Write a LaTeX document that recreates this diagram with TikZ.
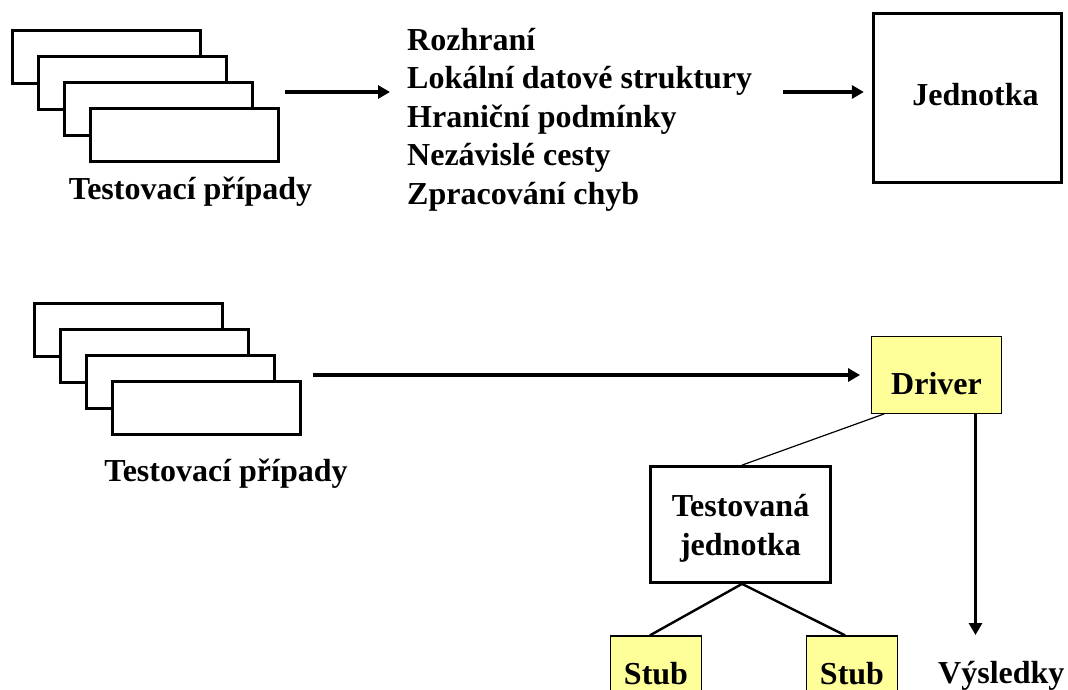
\documentclass[tikz,border=0pt]{standalone}
\usepackage{fontspec}
\setmainfont{Liberation Serif}
\usetikzlibrary{arrows.meta}
\definecolor{stubyellow}{HTML}{FFFF99}
\begin{document}
\begin{tikzpicture}[x=1pt,y=-1pt,
  lbl/.style={font=\fontsize{32}{38.5}\selectfont\bfseries, inner sep=0pt},
  boxtxt/.style={lbl, text height=22pt, text depth=7pt},
  card/.style={draw, line width=2.8pt, fill=white, inner sep=0pt,
    minimum width=188.5pt, minimum height=53.5pt},
  bigbox/.style={boxtxt, draw, line width=2.8pt, fill=white},
  yellowbox/.style={boxtxt, draw, line width=1.4pt, fill=stubyellow},
  arr/.style={line width=3.4pt, -{Triangle[length=12pt,width=13pt]}},
  link/.style={line width=2.4pt}]
\useasboundingbox (0,0) rectangle (1068,689);
\clip (0,0) rectangle (1068,689);

% --- upper part: test cases, checked aspects, unit ---
\node[card] (ta1) at (106.5,57) {};
\node[card] (ta2) at (132.5,83) {};
\node[card] (ta3) at (158.5,109) {};
\node[card] (ta4) at (184.5,135) {};
\node[lbl, anchor=base] (talbl) at (190.5,199) {Testovací případy};

\node[lbl, anchor=base west] (chk1) at (407,50) {Rozhraní};
\node[lbl, anchor=base west] (chk2) at (407,88.5) {Lokální datové struktury};
\node[lbl, anchor=base west] (chk3) at (407,127) {Hraniční podmínky};
\node[lbl, anchor=base west] (chk4) at (407,165.5) {Nezávislé cesty};
\node[lbl, anchor=base west] (chk5) at (407,204) {Zpracování chyb};

\node[bigbox, minimum width=188.5pt, minimum height=169.5pt] (unit) at (967.5,98)
  {\hspace*{16pt}Jednotka};

\coordinate (row) at (0,92);
\draw[arr] ([xshift=5pt]ta4.east |- row) -- ([xshift=-17pt]chk2.west |- row);
\draw[arr] ([xshift=31pt]chk2.east |- row) -- ([xshift=-8pt]unit.west |- row);

% --- lower part: driver, unit under test, stubs ---
\node[card] (tb1) at (128.5,330) {};
\node[card] (tb2) at (154.5,356) {};
\node[card] (tb3) at (180.5,382) {};
\node[card] (tb4) at (206.5,408) {};
\node[lbl, anchor=base] (tblbl) at (226,481) {Testovací případy};

\node[yellowbox, minimum width=129.5pt, minimum height=76.5pt] (drv) at (936.5,375)
  {\raisebox{-11.5pt}{Driver}};

\node[bigbox, align=center, text height=68pt, text depth=7pt,
  minimum width=180pt, minimum height=116pt] (tu)
  at (740.5,524.5) {Testovaná\\jednotka};

\node[yellowbox, minimum width=90.5pt, minimum height=81pt] (st1) at (656,676.5) {Stub};
\node[yellowbox, minimum width=90.5pt, minimum height=81pt] (st2) at (852,676.5) {Stub};

\node[lbl, anchor=base west] (res) at (938,683) {Výsledky};
\coordinate (restip) at (975.5,635);

\draw[arr] ([xshift=11pt]tb4.east |- drv.west) -- ([xshift=-11pt]drv.west);
\draw[line width=1.2pt] ([xshift=13pt]drv.south west) -- ([xshift=1.5pt]tu.north);
\draw[link] ([xshift=1.5pt]tu.south) -- ([xshift=-6pt]st1.north);
\draw[link] ([xshift=1.5pt]tu.south) -- ([xshift=-7pt]st2.north);
\draw[arr] (drv.south -| restip) -- (restip);
\end{tikzpicture}
\end{document}
